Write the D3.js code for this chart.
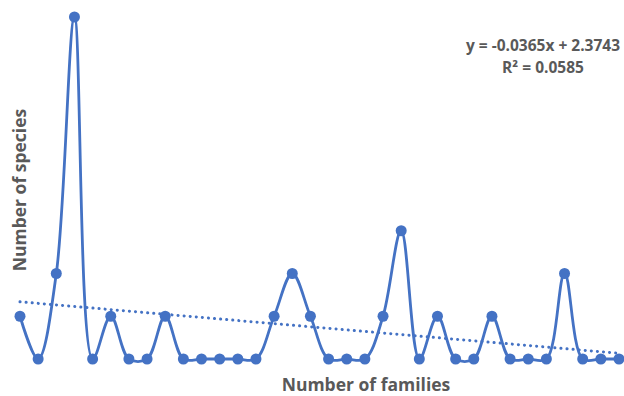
<!DOCTYPE html>
<html><head><meta charset="utf-8">
<script src="https://cdn.jsdelivr.net/npm/d3@7"></script>
<style>body{margin:0;background:#fff}svg{display:block}</style>
</head><body>
<svg id="c" width="624" height="396"></svg>
<script>
const families = d3.range(1, 35);
const species = [2,1,3,9,1,2,1,1,2,1,1,1,1,1,2,3,2,1,1,1,2,4,1,2,1,1,2,1,1,1,3,1,1,1];
const slope = -0.0365, intercept = 2.3743;
const eqLabels = ["y = -0.0365x + 2.3743", "R² = 0.0585"];
const xTitle = "Number of families", yTitle = "Number of species";

const svg = d3.select("#c");
const x = d3.scaleLinear().domain([1, 34]).range([20, 619]);
const y = d3.scaleLinear().domain([1, 9]).range([359, 17]);
const blue = "#4472C4", grey = "#595959";
const font = "'Open Sans', 'Noto Sans', sans-serif";

const data = families.map((f, i) => ({f, v: species[i]}));

svg.append("line")
  .attr("x1", x(1)).attr("x2", x(34))
  .attr("y1", y(intercept + slope * 1)).attr("y2", y(intercept + slope * 34))
  .attr("stroke", blue).attr("stroke-width", 3)
  .attr("stroke-dasharray", "0.1,6").attr("stroke-linecap", "round");

svg.append("path").datum(data)
  .attr("fill", "none").attr("stroke", blue).attr("stroke-width", 2.8)
  .attr("stroke-linejoin", "round")
  .attr("d", d3.line().x(d => x(d.f)).y(d => y(d.v)).curve(d3.curveCatmullRom.alpha(0.5)));

svg.selectAll("circle.m").data(data).join("circle")
  .attr("class", "m").attr("cx", d => x(d.f)).attr("cy", d => y(d.v))
  .attr("r", 5.5).attr("fill", blue);

svg.append("text").attr("x", 366).attr("y", 391).attr("text-anchor", "middle")
  .attr("font-family", font).attr("font-weight", "bold").attr("font-size", 17.5)
  .attr("fill", grey).text(xTitle);

svg.append("text").attr("transform", "translate(26,190) rotate(-90)")
  .attr("text-anchor", "middle")
  .attr("font-family", font).attr("font-weight", "bold").attr("font-size", 17.5)
  .attr("fill", grey).text(yTitle);

eqLabels.forEach((t, i) => {
  svg.append("text").attr("x", 543).attr("y", 51 + i * 22).attr("text-anchor", "middle")
    .attr("font-family", font).attr("font-weight", "bold").attr("font-size", 15.5)
    .attr("fill", grey).text(t);
});
</script>
</body></html>
